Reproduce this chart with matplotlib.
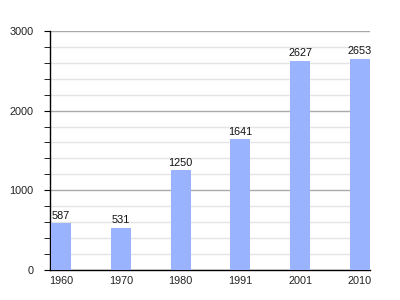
import matplotlib.pyplot as plt
from matplotlib.ticker import MultipleLocator

plt.rcParams['font.family'] = ['Liberation Sans', 'DejaVu Sans']

years = ['1960', '1970', '1980', '1991', '2001', '2010']
population = [587, 531, 1250, 1641, 2627, 2653]

fig = plt.figure(figsize=(4, 3), dpi=100)
ax = fig.add_axes([0.125, 0.1, 0.8, 0.797])

pos = list(range(len(years)))
w = 0.335
ax.bar(pos, population, width=w, color='#99b3ff', zorder=3)
for x, v in zip(pos, population):
    ax.text(x, v + 30, str(v), ha='center', va='bottom', fontsize=7.8, color='#111111', zorder=4)

ax.set_xlim(-w / 2 - 0.02, len(years) - 1 + w / 2)
ax.set_ylim(0, 3000)
ax.yaxis.set_major_locator(MultipleLocator(1000))
ax.yaxis.set_minor_locator(MultipleLocator(200))
ax.grid(axis='y', which='major', color='#aaaaaa', linewidth=1, zorder=1)
ax.grid(axis='y', which='minor', color='#e4e4e4', linewidth=1, zorder=1)
ax.set_xticks(pos)
ax.set_xticklabels(years)

for s in ['top', 'right']:
    ax.spines[s].set_visible(False)
ax.spines['left'].set_linewidth(1)
ax.spines['bottom'].set_linewidth(1)
ax.tick_params(axis='x', length=0, labelsize=7.8, pad=4, labelcolor='#222222')
ax.tick_params(axis='y', which='major', length=4, labelsize=7.8, pad=8, labelcolor='#222222')
ax.tick_params(axis='y', which='minor', length=4)

fig.savefig('out.png', dpi=100)
